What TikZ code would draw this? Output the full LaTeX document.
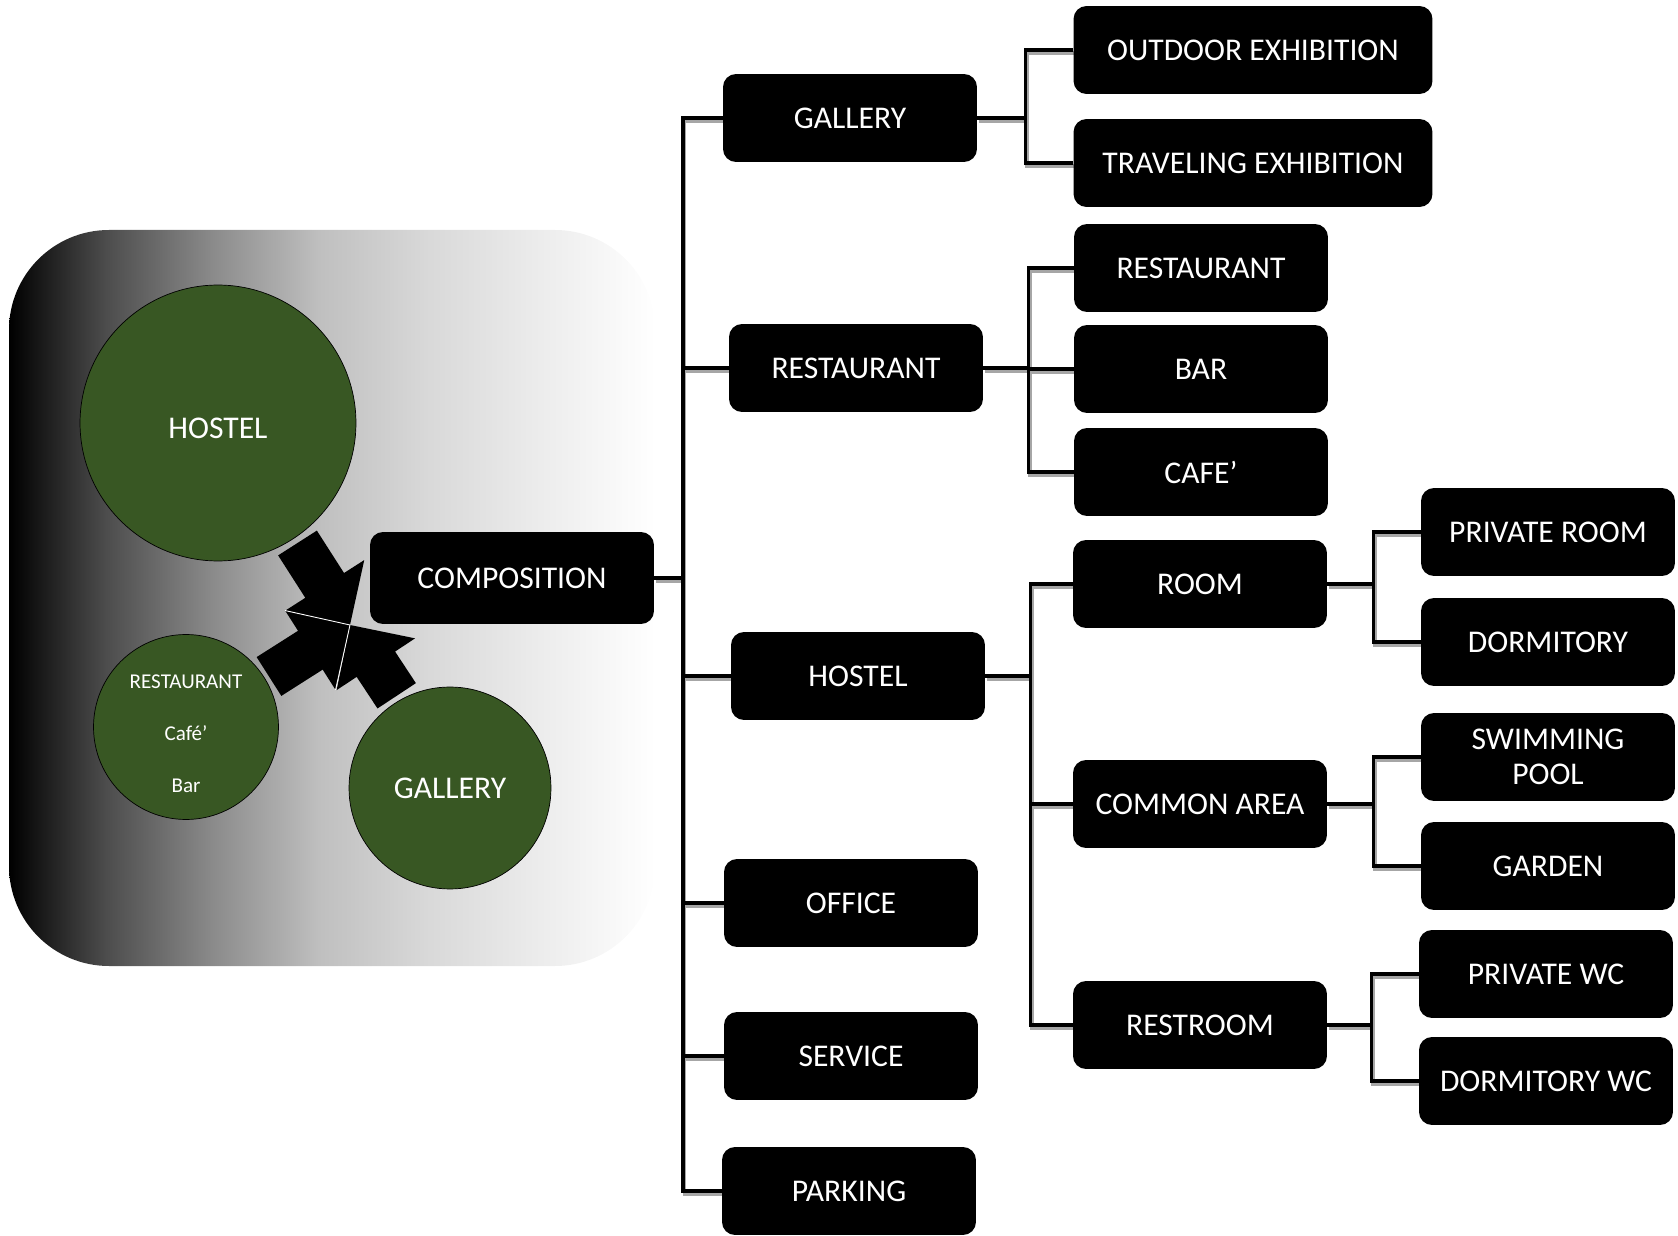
\documentclass[tikz,border=0pt]{standalone}
\usepackage{fontspec}
\setmainfont{Carlito}
\usetikzlibrary{calc,positioning,backgrounds}

\definecolor{leaf}{RGB}{56,87,35}
\pgfdeclarehorizontalshading{panelfade}{100bp}{color(0bp)=(black); color(25bp)=(black);
  color(32.5bp)=(black!70); color(41bp)=(black!45); color(49bp)=(black!25);
  color(57.5bp)=(black!15); color(65.5bp)=(black!8); color(75bp)=(white); color(100bp)=(white)}

\tikzset{
  block/.style={rectangle, rounded corners=0.26cm, fill=black, text=white,
    minimum width=5.08cm, minimum height=1.76cm, inner sep=2pt, align=center,
    font=\fontsize{18}{20}\selectfont},
  wideblock/.style={block, minimum width=7.18cm},
  zone/.style={circle, draw=black, thin, fill=leaf, inner sep=0pt},
  zonetext/.style={text=white, align=center, font=\fontsize{18}{20}\selectfont},
  link/.style={line width=0.07cm, line join=miter,
    preaction={draw=black!35, line width=0.07cm,
      transform canvas={xshift=0.03cm, yshift=-0.06cm}}},
}

% fat arrow from #1 (tail) to #2 (tip)
\newcommand{\fatarrow}[2]{%
  \coordinate (hb) at ($(#2)!0.94cm!(#1)$);
  \fill ($(#1)!0.46cm!90:(#2)$) -- ($(hb)!0.46cm!90:(#2)$) -- ($(hb)!0.94cm!90:(#2)$)
    -- (#2) -- ($(hb)!0.94cm!-90:(#2)$) -- ($(hb)!0.46cm!-90:(#2)$)
    -- ($(#1)!0.46cm!-90:(#2)$) -- cycle;}

\begin{document}
\begin{tikzpicture}[x=0.02cm, y=-0.02cm]
\useasboundingbox (0,0) rectangle (1678,1236);

% bubbles
\node[zone, minimum size=5.52cm, label={[zonetext, yshift=-0.1cm]center:HOSTEL}] (hostel_zone) at (218,423) {};
\node[zone, minimum size=3.7cm, label={[zonetext, font=\fontsize{12}{29.5}\selectfont, yshift=-0.14cm]center:RESTAURANT\\Café’\\Bar}] (dining_zone) at (186,727) {};
\node[zone, minimum size=4.04cm, label={[zonetext]center:GALLERY}] (gallery_zone) at (450,788) {};

\coordinate (meet) at (350,625);
\coordinate (from_hostel) at (297.5,543);
\coordinate (from_gallery) at (396.7,695.8);
\coordinate (from_dining) at (269,676.5);
\fatarrow{from_hostel}{meet}
\fatarrow{from_gallery}{meet}
\fatarrow{from_dining}{meet}
\draw[white, line width=0.5pt] ($(hb)!0.94cm!90:(meet)$) -- (meet) -- ($(hb)!0.94cm!-90:(meet)$);

\node[block, minimum width=5.68cm, minimum height=1.84cm] (composition) at (512,578) {COMPOSITION};

% first level
\node[block] (gallery_1) at (850,118) {GALLERY};
\node[block] (restaurant_1) at (856,368) {RESTAURANT};
\node[block] (hostel_1) at (858,676) {HOSTEL};
\node[block] (office) at (851,903) {OFFICE};
\node[block] (service) at (851,1056) {SERVICE};
\node[block] (parking) at (849,1191) {PARKING};

% second level
\node[wideblock] (outdoor) at (1253,50) {OUTDOOR EXHIBITION};
\node[wideblock] (traveling) at (1253,163) {TRAVELING EXHIBITION};
\node[block] (restaurant_2) at (1201,268) {RESTAURANT};
\node[block] (bar) at (1201,369) {BAR};
\node[block] (cafe) at (1201,472) {CAFE’};
\node[block] (room) at (1200,584) {ROOM};
\node[block] (common) at (1200,804) {COMMON AREA};
\node[block] (restroom) at (1200,1025) {RESTROOM};

% third level
\node[block] (private_room) at (1548,532) {PRIVATE ROOM};
\node[block] (dormitory) at (1548,642) {DORMITORY};
\node[block] (swimming) at (1548,757) {SWIMMING\\POOL};
\node[block] (garden) at (1548,866) {GARDEN};
\node[block] (private_wc) at (1546,974) {PRIVATE WC};
\node[block] (dormitory_wc) at (1546,1081) {DORMITORY WC};

\begin{pgfonlayer}{background}
  \shade[shading=panelfade, rounded corners=2cm] (9,230) rectangle (655,966);
  \coordinate (trunk) at (683,578);
  \draw[link] (composition.east) -- (trunk)
    foreach \n in {gallery_1,restaurant_1,hostel_1,office,service,parking} {(trunk) |- (\n.west)};
  \draw[link] (gallery_1.east) -- ++(48,0) coordinate (g_fork)
    foreach \n in {outdoor,traveling} {(g_fork) |- (\n.west)};
  \draw[link] (restaurant_1.east) -- ++(45,0) coordinate (r_fork)
    foreach \n in {restaurant_2,bar,cafe} {(r_fork) |- (\n.west)};
  \draw[link] (hostel_1.east) -- ++(45,0) coordinate (h_fork)
    foreach \n in {room,common,restroom} {(h_fork) |- (\n.west)};
  \draw[link] (room.east) -- ++(46,0) coordinate (rm_fork)
    foreach \n in {private_room,dormitory} {(rm_fork) |- (\n.west)};
  \draw[link] (common.east) -- ++(46,0) coordinate (c_fork)
    foreach \n in {swimming,garden} {(c_fork) |- (\n.west)};
  \draw[link] (restroom.east) -- ++(44,0) coordinate (w_fork)
    foreach \n in {private_wc,dormitory_wc} {(w_fork) |- (\n.west)};
\end{pgfonlayer}
\end{tikzpicture}
\end{document}
